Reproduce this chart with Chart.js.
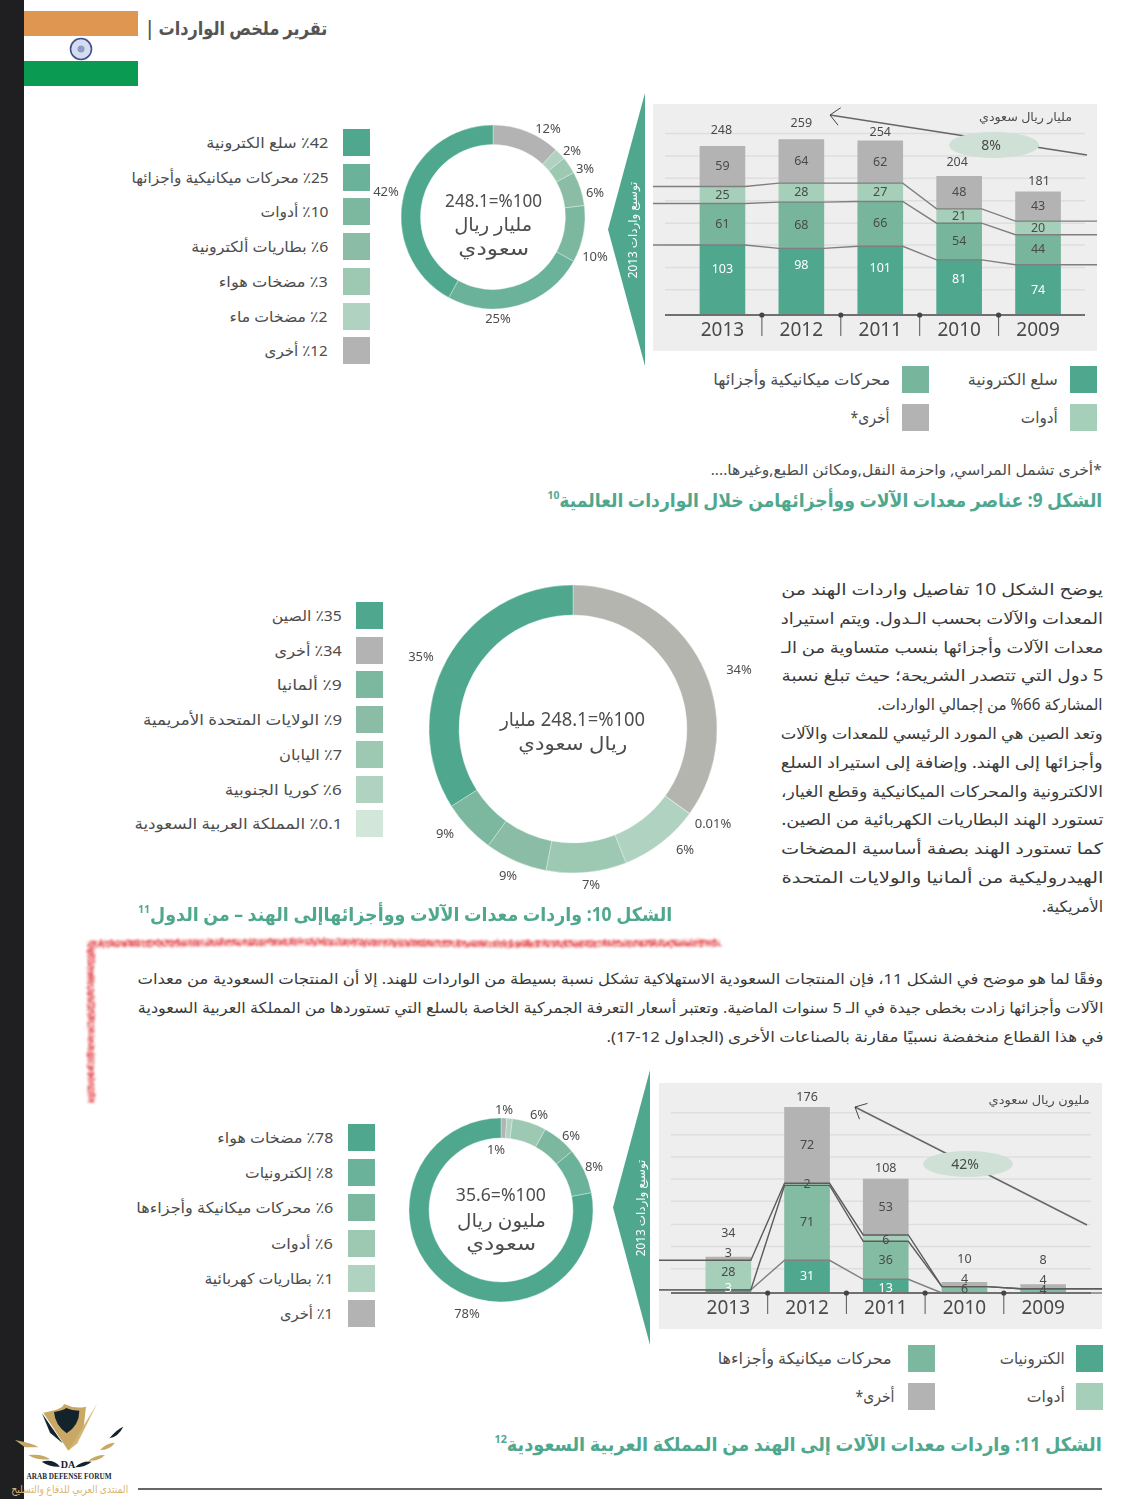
<!DOCTYPE html>
<html lang="ar">
<head>
<meta charset="utf-8">
<title>تقرير ملخص الواردات</title>
<script src="https://cdn.jsdelivr.net/npm/chart.js@4"></script>
<style>
  html, body { margin: 0; padding: 0; background: #fff; }
  #page { position: relative; width: 1146px; height: 1499px; overflow: hidden; background: #fff;
          font-family: "Noto Sans", "DejaVu Sans", sans-serif; color: #4d4d4d; }
  #page canvas { position: absolute; }
  .txt { position: absolute; white-space: nowrap; direction: rtl; line-height: 1.2; transform-origin: right center; }
  .box { position: absolute; width: 27px; height: 27px; }
  .head { font-weight: bold; color: #4fa88e; }
  .head sup { font-size: 60%; }
  .title { font-weight: bold; color: #555; }
  .forum { font-family: "Liberation Serif", serif; font-weight: bold; direction: ltr; color: #1b2a33; }
</style>
</head>
<body>
<div id="page">
  <div class="box" style="left:0;top:0;width:24px;height:1499px;background:#1f1f21"></div>
  <div class="box" style="left:24px;top:11px;width:114px;height:25px;background:#df9650"></div>
  <div class="box" style="left:24px;top:61px;width:114px;height:25px;background:#0b9a52"></div>
  <svg style="position:absolute;left:69px;top:37px" width="24" height="24">
    <circle cx="12" cy="12" r="10.5" fill="#d5dcee" stroke="#3f4f8f" stroke-width="1.6"/>
    <circle cx="12" cy="12" r="3.5" fill="#8d9ccb"/>
  </svg>
  <svg style="position:absolute;left:0;top:0" width="1146" height="1499">
    <defs>
      <filter id="rough" x="-5%" y="-5%" width="110%" height="110%">
        <feTurbulence type="fractalNoise" baseFrequency="0.3" numOctaves="2" seed="4" result="n"/>
        <feDisplacementMap in="SourceGraphic" in2="n" scale="5" result="d"/>
        <feColorMatrix in="n" type="matrix" values="0 0 0 0 0  0 0 0 0 0  0 0 0 0 0  1.8 0 0 0 -0.2" result="m"/>
        <feComposite in="d" in2="m" operator="in" result="c"/>
        <feGaussianBlur in="c" stdDeviation="0.9"/>
      </filter>
    </defs>
    <path d="M720 943 L500 944 L300 942 L91 944 L91 1103" fill="none" stroke="#e85f62" stroke-width="7" filter="url(#rough)"/>
  </svg>
  <div class="box" style="left:138px;top:1488px;width:964px;height:2px;background:#666"></div>
  <svg style="position:absolute;left:0;top:1390px;z-index:2" width="300" height="109" viewBox="0 0 900 327">
    <path d="M130 68 Q190 58 192 42 Q225 58 258 50 L250 120 L205 182 Z" fill="#c9a866"/>
    <path d="M162 66 Q195 60 198 54 Q215 62 238 62 Q238 105 200 130 Q165 105 162 66 Z" fill="#14222c"/>
    <path d="M205 182 L292 40 L232 160 Z" fill="#d3b473"/>
    <path d="M126 70 L188 160 L150 128 Z" fill="#14222c"/>
    <path d="M40 125 Q60 142 75 170 Q55 160 44 140 Z" fill="#14222c"/>
    <path d="M45 150 Q100 160 115 172 L75 172 Z" fill="#c9a866"/>
    <path d="M85 195 Q130 190 150 208 Q110 212 85 195 Z" fill="#c9a866"/>
    <path d="M125 215 Q160 205 180 230 Q150 232 125 215 Z" fill="#14222c"/>
    <path d="M370 110 Q350 118 328 145 Q355 140 370 110 Z" fill="#14222c"/>
    <path d="M345 158 Q320 158 300 180 Q330 180 345 158 Z" fill="#c9a866"/>
    <path d="M315 195 Q285 195 265 212 Q295 215 315 195 Z" fill="#c9a866"/>
    <path d="M275 215 Q245 212 225 232 Q255 232 275 215 Z" fill="#14222c"/>
    <text x="204" y="234" text-anchor="middle" font-family="Liberation Serif" font-weight="bold" font-size="30" fill="#14222c">DA</text>
  </svg>
  <div id="overlay"></div>
</div>

<script>
// panel charts
const years = ["2013", "2012", "2011", "2010", "2009"];

const goodsElectronics = [103, 98, 101, 81, 74];
const goodsMechanical = [61, 68, 66, 54, 44];
const goodsTools = [25, 28, 27, 21, 20];
const goodsOther = [59, 64, 62, 48, 43];
const goodsTotals = [248, 259, 254, 204, 181];
const goodsGrid = [37, 70, 103, 135, 168, 201, 234, 267];

const saudiElectronics = [3, 31, 13, 0, 0];
const saudiMechanical = [0, 71, 36, 6, 4];
const saudiTools = [28, 2, 6, 0, 0];
const saudiOther = [3, 72, 53, 4, 4];
const saudiTotals = [34, 176, 108, 10, 8];
const saudiGrid = [23, 44, 65, 87, 108, 129, 150, 171];

// doughnuts
const itemNames = ["سلع الكترونية", "محركات ميكانيكية وأجزائها", "أدوات", "بطاريات ألكترونية", "مضخات هواء", "مضخات ماء", "أخرى"];
const itemShares = [42, 25, 10, 6, 3, 2, 12];
const itemSlices = [12, 2, 3, 6, 10, 25, 42];

const countryNames = ["الصين", "أخرى", "ألمانيا", "الولايات المتحدة الأمريمية", "اليابان", "كوريا الجنوبية", "المملكة العربية السعودية"];
const countryShares = [35, 34, 9, 9, 7, 6, 0.1];
// the slices in the picture do not follow their printed labels: grey is the 35% one
const countrySlices = [35, 0.01, 9, 9, 7, 6, 34];
const countryLabels = ["34%", "0.01%", "6%", "7%", "9%", "9%", "35%"];

const saudiNames = ["مضخات هواء", "إلكترونيات", "محركات ميكانيكة وأجزاءها", "أدوات", "بطاريات كهربائية", "أخرى"];
const saudiShares = [78, 8, 6, 6, 1, 1];
const saudiSlices = [1, 1, 6, 6, 8, 78];

const green1 = "#4fa88e", green2 = "#6bb29a", green3 = "#7cb89f", green4 = "#8bbda6",
      green5 = "#9dc9b3", green6 = "#b0d3c1", green7 = "#d2e6da", grey = "#b3b3b3";
const barMech = "#77b69d", barTools = "#a6cfba";

const overlay = document.getElementById("overlay");

// puts a line of text with its right edge at x and its middle at y, squeezed to the width
function putText(str, right, y, size, width, extra) {
  const el = document.createElement("div");
  el.className = "txt " + ((extra && extra.cls) || "");
  el.style.fontSize = size + "px";
  el.style.right = (1146 - right) + "px";
  el.style.top = y + "px";
  if (extra && extra.color) el.style.color = extra.color;
  if (extra && extra.html) el.innerHTML = str; else el.textContent = str;
  overlay.appendChild(el);
  const natural = el.getBoundingClientRect().width;
  const sx = width ? width / natural : 1;
  el.style.transform = "translateY(-50%) scaleX(" + sx.toFixed(3) + ")";
  return el;
}

function putBox(x, y, color) {
  const el = document.createElement("div");
  el.className = "box";
  el.style.left = x + "px";
  el.style.top = y + "px";
  el.style.background = color;
  overlay.appendChild(el);
}

function legendColumn(names, shares, colors, boxX, firstY, step, textRight, widths) {
  names.forEach((name, i) => {
    const top = firstY + i * step;
    putBox(boxX, top, colors[i]);
    putText("٪" + shares[i] + " " + name, textRight, top + 13, 15, widths[i]);
  });
}

// draws stack labels, connectors, grid and the trend arrow for the panel charts
const panelPlugin = {
  id: "panelPlugin",
  beforeDatasetsDraw(chart, args, opts) {
    const { ctx, scales } = chart;
    ctx.save();
    ctx.strokeStyle = "#dedede";
    ctx.lineWidth = 1.5;
    scales.y.ticks.forEach(t => {
      const y = scales.y.getPixelForValue(t.value);
      ctx.beginPath();
      ctx.moveTo(opts.axisFrom, y);
      ctx.lineTo(opts.axisTo, y);
      ctx.stroke();
    });
    ctx.restore();
  },
  afterDatasetsDraw(chart, args, opts) {
    const { ctx, scales } = chart;
    const base = scales.y.getPixelForValue(0);
    ctx.save();

    // lines joining the tops of the lower three stacks
    ctx.lineWidth = 1.4;
    [0, 1, 2].forEach(k => {
      const bars = chart.getDatasetMeta(k).data;
      ctx.strokeStyle = opts.lineColors[k];
      ctx.beginPath();
      ctx.moveTo(0, bars[0].y);
      bars.forEach(b => {
        ctx.lineTo(b.x - b.width / 2, b.y);
        ctx.lineTo(b.x + b.width / 2, b.y);
      });
      ctx.lineTo(chart.width, bars[bars.length - 1].y);
      ctx.stroke();
    });

    // axis line and the pins between the years
    ctx.strokeStyle = "#707070";
    ctx.lineWidth = 2;
    ctx.beginPath();
    ctx.moveTo(opts.axisFrom, base);
    ctx.lineTo(opts.axisTo, base);
    ctx.stroke();
    ctx.strokeStyle = "#555";
    ctx.fillStyle = "#444";
    ctx.lineWidth = 1;
    const first = chart.getDatasetMeta(0).data;
    for (let i = 0; i < first.length - 1; i++) {
      const x = (first[i].x + first[i + 1].x) / 2;
      ctx.beginPath();
      ctx.moveTo(x, base);
      ctx.lineTo(x, base + 21);
      ctx.stroke();
      ctx.beginPath();
      ctx.arc(x, base, 2.6, 0, Math.PI * 2);
      ctx.fill();
    }

    // numbers
    ctx.textAlign = "center";
    ctx.textBaseline = "middle";
    ctx.font = '12.5px "Noto Sans"';
    chart.data.datasets.forEach((ds, k) => {
      const bars = chart.getDatasetMeta(k).data;
      bars.forEach((b, i) => {
        if (!ds.data[i]) return;
        const nudge = ds.nudge ? ds.nudge[i] : 0;
        ctx.fillStyle = k === 0 ? "#fff" : "#4a4a4a";
        ctx.fillText(ds.data[i], b.x, (b.y + b.base) / 2 + nudge);
      });
    });
    const top = chart.getDatasetMeta(3).data;
    ctx.fillStyle = "#4a4a4a";
    opts.totals.forEach((v, i) => {
      ctx.fillText(v, top[i].x + opts.totalShift[i], top[i].y + opts.totalNudge[i]);
    });

    // trend arrow with its oval
    const tr = opts.trend;
    ctx.strokeStyle = "#666";
    ctx.lineWidth = 1.5;
    ctx.beginPath();
    ctx.moveTo(tr.from[0], tr.from[1]);
    ctx.lineTo(tr.to[0], tr.to[1]);
    ctx.stroke();
    const ang = Math.atan2(tr.from[1] - tr.to[1], tr.from[0] - tr.to[0]);
    ctx.beginPath();
    ctx.moveTo(tr.to[0] + 13 * Math.cos(ang + 0.75), tr.to[1] + 13 * Math.sin(ang + 0.75));
    ctx.lineTo(tr.to[0], tr.to[1]);
    ctx.lineTo(tr.to[0] + 13 * Math.cos(ang - 0.75), tr.to[1] + 13 * Math.sin(ang - 0.75));
    ctx.lineWidth = 1;
    ctx.strokeStyle = "#444";
    ctx.stroke();
    ctx.fillStyle = "#cfe0d6";
    ctx.beginPath();
    ctx.ellipse(tr.oval[0], tr.oval[1], 45, 13, 0, 0, Math.PI * 2);
    ctx.fill();
    ctx.fillStyle = "#4a4a4a";
    ctx.font = '14px "Noto Sans"';
    ctx.fillText(tr.label, tr.oval[0] - 3, tr.oval[1] + 1);
    ctx.restore();
  }
};

function panelChart(left, top, width, height, baseRel, maxValue, pad, series, gridValues, panelOpts) {
  const canvas = document.createElement("canvas");
  canvas.width = width;
  canvas.height = height;
  canvas.style.left = left + "px";
  canvas.style.top = top + "px";
  canvas.style.width = width + "px";
  canvas.style.height = height + "px";
  canvas.style.background = "#eeeeee";
  overlay.appendChild(canvas);
  return new Chart(canvas, {
    type: "bar",
    data: {
      labels: years,
      datasets: series
    },
    options: {
      responsive: false,
      animation: false,
      devicePixelRatio: 1,
      layout: { padding: { left: pad[0], right: pad[1], top: 0, bottom: 0 } },
      scales: {
        x: {
          stacked: true,
          grid: { display: false, drawTicks: false },
          border: { display: false },
          afterFit: s => { s.height = height - baseRel; },
          ticks: { color: "#4a4a4a", font: { family: "Noto Sans", size: 19 }, padding: 4, maxRotation: 0 }
        },
        y: {
          stacked: true,
          display: false,
          min: 0,
          max: maxValue,
          afterBuildTicks: s => { s.ticks = gridValues.map(v => ({ value: v })); }
        }
      },
      plugins: { legend: { display: false }, tooltip: { enabled: false }, panelPlugin: panelOpts }
    },
    plugins: [panelPlugin]
  });
}

// slice labels sit around the ring
const ringLabels = {
  id: "ringLabels",
  afterDatasetsDraw(chart, args, opts) {
    const { ctx } = chart;
    const arc = chart.getDatasetMeta(0).data[0];
    ctx.save();
    ctx.fillStyle = "#4d4d4d";
    ctx.font = '13px "Noto Sans"';
    ctx.textAlign = "center";
    ctx.textBaseline = "middle";
    opts.labels.forEach((t, i) => {
      ctx.fillText(t, arc.x + opts.offsets[i][0], arc.y + opts.offsets[i][1]);
    });
    ctx.restore();
  }
};

function ringChart(cx, cy, half, outer, inner, slices, colors, labels, offsets) {
  const canvas = document.createElement("canvas");
  canvas.width = half * 2;
  canvas.height = half * 2;
  canvas.style.left = (cx - half) + "px";
  canvas.style.top = (cy - half) + "px";
  canvas.style.width = half * 2 + "px";
  canvas.style.height = half * 2 + "px";
  overlay.appendChild(canvas);
  return new Chart(canvas, {
    type: "doughnut",
    data: {
      labels: labels,
      datasets: [{ data: slices, backgroundColor: colors, borderWidth: 0.4, borderColor: "#e8f2ed" }]
    },
    options: {
      responsive: false,
      animation: false,
      devicePixelRatio: 1,
      radius: outer,
      cutout: (inner / outer * 100) + "%",
      plugins: {
        legend: { display: false },
        tooltip: { enabled: false },
        ringLabels: { labels: labels, offsets: offsets }
      }
    },
    plugins: [ringLabels]
  });
}

// green arrow shape left of a panel, with its rotated caption
function putChevron(x, top, bottom, tip, caption, captionX) {
  const mid = (top + bottom) / 2;
  const shape = document.createElement("div");
  shape.style.cssText = "position:absolute;left:" + tip + "px;top:" + top + "px;width:" + (x - tip) + "px;height:" + (bottom - top) +
    "px;background:" + green1 + ";clip-path:polygon(100% 0,100% 100%,0 50%)";
  overlay.appendChild(shape);
  const el = document.createElement("div");
  el.textContent = caption;
  el.style.cssText = "position:absolute;white-space:nowrap;direction:rtl;color:#fff;font-size:11.8px;left:" + captionX + "px;top:" + mid +
    "px;transform:translate(-50%,-50%) rotate(-90deg)";
  overlay.appendChild(el);
}

// ---------- page header ----------
putText("تقرير ملخص الواردات |", 327, 28, 19, 182, { cls: "title" });

// ---------- figure 9 ----------
legendColumn(itemNames, itemShares, [green1, green2, green3, green4, green5, green6, grey], 343, 129, 34.7, 328,
  [122, 197, 68, 137, 109, 98, 63]);

ringChart(493, 217, 130, 92, 72.5, itemSlices, [grey, green6, green5, green4, green3, green2, green1],
  ["12%", "2%", "3%", "6%", "10%", "25%", "42%"],
  [[55, -88], [79, -66], [92, -48], [102, -24], [102, 40], [5, 102], [-107, -25]]);

putText("\u2066248.1=%100\u2069", 542, 201, 18, 97, { color: "#4d4d4d" });
putText("مليار ريال", 532, 224, 19, 78);
putText("سعودي", 529, 248, 19, 71);

panelChart(653, 104, 444, 247, 211, 310.3, [30, 19.5], [
  { data: goodsElectronics, backgroundColor: green1, barThickness: 45, nudge: [-11, -16, -12, -8, 1] },
  { data: goodsMechanical, backgroundColor: barMech, barThickness: 45 },
  { data: goodsTools, backgroundColor: barTools, barThickness: 45 },
  { data: goodsOther, backgroundColor: grey, barThickness: 45 }
], goodsGrid, {
  totals: goodsTotals,
  totalShift: [-1, 0, 0, -2, 1],
  totalNudge: [-16, -16, -8, -14, -10],
  axisFrom: 12, axisTo: 432,
  lineColors: ["#7f7f7f", "#7f7f7f", "#7f7f7f"],
  trend: { from: [434, 51], to: [177, 11], oval: [341, 41], label: "8%" }
});

putText("مليار ريال سعودي", 1072, 117, 12, 93);

putChevron(645, 93, 366, 608, "توسيع واردات 2013", 632);

[[1070, 366, green1, "سلع الكترونية", 1058, 90], [902, 366, barMech, "محركات ميكانيكية وأجزائها", 890, 177],
 [1070, 404, barTools, "أدوات", 1058, 37], [902, 404, grey, "أخرى*", 890, 39]].forEach(r => {
  putBox(r[0], r[1], r[2]);
  putText(r[3], r[4], r[1] + 14, 16, r[5]);
});

putText("*أخرى تشمل المراسي, واحزمة النقل,ومكائن الطبع,وغيرها....", 1102, 469, 15, 391);
putText("الشكل 9: عناصر معدات الآلات ووأجزائهامن خلال الواردات العالمية<sup>10</sup>", 1102, 500, 19, 555, { cls: "head", html: true });

// ---------- figure 10 ----------
const sideLines = [
  ["يوضح الشكل 10 تفاصيل واردات الهند من", 322],
  ["المعدات والآلات بحسب الـدول. ويتم استيراد", 322],
  ["معدات الآلات وأجزائها بنسب متساوية من الـ", 322],
  ["5 دول التي تتصدر الشريحة؛ حيث تبلغ نسبة", 322],
  ["المشاركة 66% من إجمالي الواردات.", 225],
  ["وتعد الصين هي المورد الرئيسي للمعدات والآلات", 322],
  ["وأجزائها إلى الهند. وإضافة إلى استيراد السلع", 322],
  ["الالكترونية والمحركات الميكانيكية وقطع الغيار،", 322],
  ["تستورد الهند البطاريات الكهربائية من الصين.", 322],
  ["كما تستورد الهند بصفة أساسية المضخات", 322],
  ["الهيدروليكية من ألمانيا والولايات المتحدة", 322],
  ["الأمريكية.", 61]
];
sideLines.forEach((l, i) => putText(l[0], 1103, 589 + i * 28.8, 15.5, l[1], { color: "#3a3a3a" }));

legendColumn(countryNames, countryShares, [green1, grey, green3, green4, green5, green6, green7], 356, 602, 34.7, 342,
  [70, 67, 65, 199, 63, 117, 208]);

ringChart(573, 729, 190, 144, 114, countrySlices, ["#b4b5af", "#dfe9e2", green6, green5, green4, green3, green1],
  countryLabels,
  [[166, -59], [140, 95], [112, 121], [18, 156], [-65, 147], [-128, 105], [-152, -72]]);

putText("\u2066248.1=%100\u2069 مليار", 645, 719, 19, 145);
putText("ريال سعودي", 627, 743, 19, 109);

putText("الشكل 10: واردات معدات الآلات ووأجزائهاإلى الهند – من الدول<sup>11</sup>", 672, 914, 19, 534, { cls: "head", html: true });

// ---------- paragraph above figure 11 ----------
const wideLines = [
  ["وفقًا لما هو موضح في الشكل 11، فإن المنتجات السعودية الاستهلاكية تشكل نسبة بسيطة من الواردات للهند. إلا أن المنتجات السعودية من معدات", 966],
  ["الآلات وأجزائها زادت بخطى جيدة في الـ 5 سنوات الماضية. وتعتبر أسعار التعرفة الجمركية الخاصة بالسلع التي تستوردها من المملكة العربية السعودية", 966],
  ["في هذا القطاع منخفضة نسبيًا مقارنة بالصناعات الأخرى (الجداول 12-17).", 497]
];
wideLines.forEach((l, i) => putText(l[0], 1103, 978 + i * 29, 15, l[1], { color: "#3a3a3a" }));

// ---------- figure 11 ----------
legendColumn(saudiNames, saudiShares, [green1, green2, green3, green5, green6, grey], 348, 1124, 35.2, 333,
  [116, 88, 197, 62, 129, 53]);

ringChart(501, 1210, 130, 92, 72, saudiSlices, [grey, green6, green5, green3, green2, green1],
  ["1%", "1%", "6%", "6%", "8%", "78%"],
  [[-5, -60], [3, -100], [38, -95], [70, -74], [93, -43], [-34, 104]]);

putText("\u206635.6=%100\u2069", 546, 1195, 18, 90);
putText("مليون ريال", 546, 1220, 19, 89);
putText("سعودي", 536, 1243, 19, 70);

panelChart(659, 1083, 443, 246, 210, 199.1, [30, 19.5], [
  { data: saudiElectronics, backgroundColor: green1, barThickness: 45, nudge: [-3, 0, 2, 0, 0] },
  { data: saudiMechanical, backgroundColor: "#84bba3", barThickness: 45 },
  { data: saudiTools, backgroundColor: barTools, barThickness: 45, nudge: [-3, 0, 2, 0, 0] },
  { data: saudiOther, backgroundColor: grey, barThickness: 45, nudge: [-5, 0, 0, -5, -6] }
], saudiGrid, {
  totals: saudiTotals,
  totalShift: [0, 0, 0, 0, 0],
  totalNudge: [-24, -10, -11, -23, -24],
  axisFrom: 12, axisTo: 432,
  lineColors: ["#808080", "#5c5c5c", "#5c5c5c"],
  trend: { from: [428, 142], to: [196, 24], oval: [309, 81], label: "42%" }
});

putText("مليون ريال سعودي", 1090, 1100, 12, 101);

putChevron(650, 1070, 1345, 613, "توسيع واردات 2013", 640);

[[1076, 1345, green1, "الكترونيات", 1065, 65], [908, 1345, green3, "محركات ميكانيكة وأجزاءها", 892, 174],
 [1076, 1383, barTools, "أدوات", 1065, 38], [908, 1383, grey, "أخرى*", 895, 39]].forEach(r => {
  putBox(r[0], r[1], r[2]);
  putText(r[3], r[4], r[1] + 14, 16, r[5]);
});

putText("الشكل 11: واردات معدات الآلات إلى الهند من المملكة العربية السعودية<sup>12</sup>", 1102, 1444, 19, 607, { cls: "head", html: true });

// ---------- forum mark, bottom left ----------
putText("ARAB DEFENSE FORUM", 112, 1476, 9, 85, { cls: "forum" });
putText("المنتدى العربي للدفاع والتسليح", 128, 1489, 11, 117, { color: "#d9b676" });
</script>
</body>
</html>
